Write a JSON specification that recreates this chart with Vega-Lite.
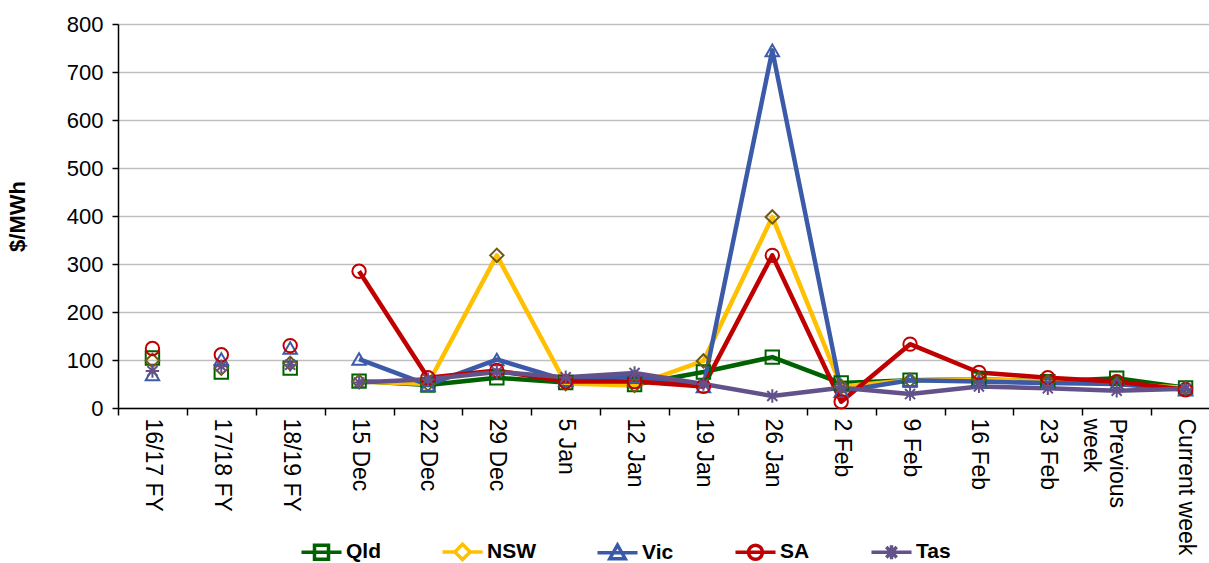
{
  "$schema": "https://vega.github.io/schema/vega-lite/v6.json",
  "width": 1102,
  "height": 384,
  "autosize": {"type": "none"},
  "padding": {"left": 118, "top": 24, "right": -11, "bottom": 155},
  "background": "white",
  "config": {
    "font": "Liberation Sans",
    "view": {"stroke": null},
    "axis": {
      "labelFont": "Liberation Sans",
      "labelColor": "black",
      "labelFontSize": 22,
      "titleFont": "Liberation Sans",
      "titleColor": "black",
      "tickColor": "black",
      "domainColor": "black",
      "domainWidth": 1.5,
      "tickWidth": 1.5
    },
    "legend": {
      "title": null,
      "orient": "none",
      "legendX": 193,
      "legendY": 517,
      "direction": "horizontal",
      "labelFont": "Liberation Sans",
      "labelFontSize": 21,
      "labelFontWeight": "bold",
      "labelColor": "black",
      "symbolSize": 196,
      "symbolStrokeWidth": 3.5,
      "symbolOpacity": 1,
      "symbolFillColor": "white",
      "labelOffset": 14,
      "columnPadding": 54
    }
  },
  "data": {
    "values": [
      {"period": "16/17 FY", "series": "Qld", "value": 104, "kind": "fy"},
      {"period": "17/18 FY", "series": "Qld", "value": 75, "kind": "fy"},
      {"period": "18/19 FY", "series": "Qld", "value": 83, "kind": "fy"},
      {"period": "15 Dec", "series": "Qld", "value": 56, "kind": "wk"},
      {"period": "22 Dec", "series": "Qld", "value": 48, "kind": "wk"},
      {"period": "29 Dec", "series": "Qld", "value": 63, "kind": "wk"},
      {"period": "5 Jan", "series": "Qld", "value": 53, "kind": "wk"},
      {"period": "12 Jan", "series": "Qld", "value": 49, "kind": "wk"},
      {"period": "19 Jan", "series": "Qld", "value": 75, "kind": "wk"},
      {"period": "26 Jan", "series": "Qld", "value": 106, "kind": "wk"},
      {"period": "2 Feb", "series": "Qld", "value": 52, "kind": "wk"},
      {"period": "9 Feb", "series": "Qld", "value": 58, "kind": "wk"},
      {"period": "16 Feb", "series": "Qld", "value": 60, "kind": "wk"},
      {"period": "23 Feb", "series": "Qld", "value": 55, "kind": "wk"},
      {"period": "Previous week", "series": "Qld", "value": 62, "kind": "wk"},
      {"period": "Current week", "series": "Qld", "value": 42, "kind": "wk"},

      {"period": "16/17 FY", "series": "NSW", "value": 99, "kind": "fy"},
      {"period": "17/18 FY", "series": "NSW", "value": 83, "kind": "fy"},
      {"period": "18/19 FY", "series": "NSW", "value": 93, "kind": "fy"},
      {"period": "15 Dec", "series": "NSW", "value": 55, "kind": "wk"},
      {"period": "22 Dec", "series": "NSW", "value": 50, "kind": "wk"},
      {"period": "29 Dec", "series": "NSW", "value": 318, "kind": "wk"},
      {"period": "5 Jan", "series": "NSW", "value": 51, "kind": "wk"},
      {"period": "12 Jan", "series": "NSW", "value": 47, "kind": "wk"},
      {"period": "19 Jan", "series": "NSW", "value": 98, "kind": "wk"},
      {"period": "26 Jan", "series": "NSW", "value": 398, "kind": "wk"},
      {"period": "2 Feb", "series": "NSW", "value": 45, "kind": "wk"},
      {"period": "9 Feb", "series": "NSW", "value": 58, "kind": "wk"},
      {"period": "16 Feb", "series": "NSW", "value": 60, "kind": "wk"},
      {"period": "23 Feb", "series": "NSW", "value": 55, "kind": "wk"},
      {"period": "Previous week", "series": "NSW", "value": 50, "kind": "wk"},
      {"period": "Current week", "series": "NSW", "value": 42, "kind": "wk"},

      {"period": "16/17 FY", "series": "Vic", "value": 70, "kind": "fy"},
      {"period": "17/18 FY", "series": "Vic", "value": 102, "kind": "fy"},
      {"period": "18/19 FY", "series": "Vic", "value": 125, "kind": "fy"},
      {"period": "15 Dec", "series": "Vic", "value": 102, "kind": "wk"},
      {"period": "22 Dec", "series": "Vic", "value": 48, "kind": "wk"},
      {"period": "29 Dec", "series": "Vic", "value": 101, "kind": "wk"},
      {"period": "5 Jan", "series": "Vic", "value": 58, "kind": "wk"},
      {"period": "12 Jan", "series": "Vic", "value": 65, "kind": "wk"},
      {"period": "19 Jan", "series": "Vic", "value": 45, "kind": "wk"},
      {"period": "26 Jan", "series": "Vic", "value": 745, "kind": "wk"},
      {"period": "2 Feb", "series": "Vic", "value": 35, "kind": "wk"},
      {"period": "9 Feb", "series": "Vic", "value": 58, "kind": "wk"},
      {"period": "16 Feb", "series": "Vic", "value": 55, "kind": "wk"},
      {"period": "23 Feb", "series": "Vic", "value": 52, "kind": "wk"},
      {"period": "Previous week", "series": "Vic", "value": 50, "kind": "wk"},
      {"period": "Current week", "series": "Vic", "value": 38, "kind": "wk"},

      {"period": "16/17 FY", "series": "SA", "value": 124, "kind": "fy"},
      {"period": "17/18 FY", "series": "SA", "value": 111, "kind": "fy"},
      {"period": "18/19 FY", "series": "SA", "value": 130, "kind": "fy"},
      {"period": "15 Dec", "series": "SA", "value": 285, "kind": "wk"},
      {"period": "22 Dec", "series": "SA", "value": 63, "kind": "wk"},
      {"period": "29 Dec", "series": "SA", "value": 78, "kind": "wk"},
      {"period": "5 Jan", "series": "SA", "value": 55, "kind": "wk"},
      {"period": "12 Jan", "series": "SA", "value": 55, "kind": "wk"},
      {"period": "19 Jan", "series": "SA", "value": 45, "kind": "wk"},
      {"period": "26 Jan", "series": "SA", "value": 318, "kind": "wk"},
      {"period": "2 Feb", "series": "SA", "value": 13, "kind": "wk"},
      {"period": "9 Feb", "series": "SA", "value": 133, "kind": "wk"},
      {"period": "16 Feb", "series": "SA", "value": 74, "kind": "wk"},
      {"period": "23 Feb", "series": "SA", "value": 63, "kind": "wk"},
      {"period": "Previous week", "series": "SA", "value": 55, "kind": "wk"},
      {"period": "Current week", "series": "SA", "value": 38, "kind": "wk"},

      {"period": "16/17 FY", "series": "Tas", "value": 77, "kind": "fy"},
      {"period": "17/18 FY", "series": "Tas", "value": 87, "kind": "fy"},
      {"period": "18/19 FY", "series": "Tas", "value": 90, "kind": "fy"},
      {"period": "15 Dec", "series": "Tas", "value": 53, "kind": "wk"},
      {"period": "22 Dec", "series": "Tas", "value": 60, "kind": "wk"},
      {"period": "29 Dec", "series": "Tas", "value": 75, "kind": "wk"},
      {"period": "5 Jan", "series": "Tas", "value": 64, "kind": "wk"},
      {"period": "12 Jan", "series": "Tas", "value": 73, "kind": "wk"},
      {"period": "19 Jan", "series": "Tas", "value": 50, "kind": "wk"},
      {"period": "26 Jan", "series": "Tas", "value": 25, "kind": "wk"},
      {"period": "2 Feb", "series": "Tas", "value": 42, "kind": "wk"},
      {"period": "9 Feb", "series": "Tas", "value": 29, "kind": "wk"},
      {"period": "16 Feb", "series": "Tas", "value": 45, "kind": "wk"},
      {"period": "23 Feb", "series": "Tas", "value": 41, "kind": "wk"},
      {"period": "Previous week", "series": "Tas", "value": 36, "kind": "wk"},
      {"period": "Current week", "series": "Tas", "value": 40, "kind": "wk"}
    ]
  },
  "encoding": {
    "x": {
      "field": "period",
      "type": "ordinal",
      "bandPosition": 0.5,
      "sort": ["16/17 FY", "17/18 FY", "18/19 FY", "15 Dec", "22 Dec", "29 Dec", "5 Jan", "12 Jan", "19 Jan", "26 Jan", "2 Feb", "9 Feb", "16 Feb", "23 Feb", "Previous week", "Current week"],
      "scale": {"type": "band", "paddingInner": 0, "paddingOuter": 0},
      "axis": {
        "title": null,
        "labelAngle": 90,
        "labelAlign": "left",
        "labelBaseline": "middle",
        "labelFontSize": 23,
        "labelPadding": 3,
        "labelOverlap": false,
        "labelLineHeight": 26,
        "tickBand": "extent",
        "tickSize": 7,
        "grid": false,
        "labelExpr": "datum.value == 'Previous week' ? ['Previous', 'week'] : datum.value"
      }
    },
    "y": {
      "field": "value",
      "type": "quantitative",
      "scale": {"domain": [0, 800], "nice": false},
      "axis": {
        "title": "$/MWh",
        "titleFontSize": 22,
        "titleFontWeight": "bold",
        "titlePadding": 37,
        "values": [0, 100, 200, 300, 400, 500, 600, 700, 800],
        "labelPadding": 9,
        "tickSize": 6,
        "grid": true,
        "gridColor": "#BFBFBF",
        "gridWidth": 1.5
      }
    }
  },
  "layer": [
    {
      "transform": [{"filter": "datum.kind == 'wk'"}],
      "mark": {"type": "line", "strokeWidth": 4.5, "strokeJoin": "round"},
      "encoding": {
        "color": {
          "field": "series",
          "type": "nominal",
          "scale": {"domain": ["Qld", "NSW", "Vic", "SA", "Tas"], "range": ["#006100", "#FFC000", "#3B5BA9", "#C00000", "#63518A"]},
          "legend": null
        }
      }
    },
    {
      "mark": {"type": "point", "filled": false, "size": 180, "strokeWidth": 2, "opacity": 1},
      "encoding": {
        "shape": {
          "field": "series",
          "type": "nominal",
          "scale": {"domain": ["Qld", "NSW", "Vic", "SA", "Tas"], "range": ["square", "diamond", "triangle-up", "circle", "M0,-1V1M-1,0H1M-0.75,-0.75L0.75,0.75M-0.75,0.75L0.75,-0.75"]},
          "legend": null
        },
        "stroke": {
          "field": "series",
          "type": "nominal",
          "scale": {"domain": ["Qld", "NSW", "Vic", "SA", "Tas"], "range": ["#006100", "#6E5A12", "#3B5BA9", "#C00000", "#63518A"]},
          "legend": null
        }
      }
    },
    {
      "transform": [{"filter": "datum.period == 'Current week'"}],
      "mark": {"type": "point", "filled": false, "size": 196, "strokeWidth": 3.5, "opacity": 0},
      "encoding": {
        "shape": {
          "field": "series",
          "type": "nominal",
          "scale": {"domain": ["Qld", "NSW", "Vic", "SA", "Tas"], "range": [
            "M-2.86,0H2.86M-1,-1H1V1H-1Z",
            "M-2.86,0H-1.1M1.1,0H2.86M0,-1.1L1.1,0L0,1.1L-1.1,0Z",
            "M-2.86,0H2.86M0,-1.1L1.1,0.85H-1.1Z",
            "M-2.86,0H2.86M1,0A1,1,0,1,1,-1,0A1,1,0,1,1,1,0Z",
            "M-2.86,0H2.86M0,-1V1M-0.75,-0.75L0.75,0.75M-0.75,0.75L0.75,-0.75"
          ]}
        },
        "stroke": {
          "field": "series",
          "type": "nominal",
          "scale": {"domain": ["Qld", "NSW", "Vic", "SA", "Tas"], "range": ["#006100", "#FFC000", "#3B5BA9", "#C00000", "#63518A"]}
        }
      }
    }
  ],
  "resolve": {
    "scale": {"shape": "independent", "stroke": "independent"},
    "legend": {"shape": "independent", "stroke": "independent"}
  }
}
